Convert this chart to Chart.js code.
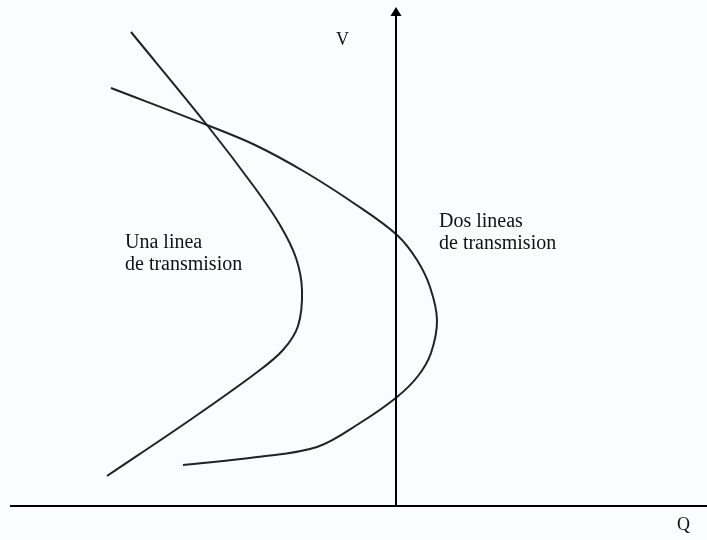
<!DOCTYPE html>
<html>
<head>
<meta charset="utf-8">
<script src="https://cdn.jsdelivr.net/npm/chart.js@4/dist/chart.umd.min.js"></script>
<style>
  html, body { margin: 0; padding: 0; background: #fbfcfe; }
  #wrap { width: 707px; height: 540px; }
</style>
</head>
<body>
<div id="wrap"><canvas id="qv" width="707" height="540"></canvas></div>
<script>
// curva Q-V con una linea de transmision
const unaQ = [-265, -189, -141, -116, -100, -94, -98, -113, -140, -206, -289];
const unaV = [474, 381, 318, 281, 248, 216, 180, 156, 133, 86, 30];

// curva Q-V con dos lineas de transmision
const dosQ = [-285, -189, -141, -91, -41, 1, 21, 34, 41, 35, 22, 1, -36, -79, -139, -213];
const dosV = [418, 381, 361, 334, 302, 271, 246, 219, 186, 153, 130, 109, 83, 59, 49, 41];

const labels = [
  { q: -271, v: 258, text: 'Una linea' },
  { q: -271, v: 236, text: 'de transmision' },
  { q: 43, v: 279, text: 'Dos lineas' },
  { q: 43, v: 257, text: 'de transmision' },
  { q: -60, v: 461, text: 'V' },
  { q: 281, v: -24, text: 'Q' },
];

const toPoints = (qs, vs) => qs.map((q, i) => ({ x: q, y: vs[i] }));

const axesPlugin = {
  id: 'axesPlugin',
  beforeDraw(chart) {
    const c = chart.ctx;
    c.save();
    c.fillStyle = '#fbfcfe';
    c.fillRect(0, 0, chart.width, chart.height);
    c.restore();
  },
  afterDatasetsDraw(chart) {
    const c = chart.ctx;
    const xs = chart.scales.x, ys = chart.scales.y;
    const x0 = xs.getPixelForValue(0);
    const y0 = ys.getPixelForValue(0);
    const yTop = ys.getPixelForValue(499);
    c.save();
    c.strokeStyle = '#000';
    c.lineWidth = 2;
    c.beginPath();
    c.moveTo(xs.getPixelForValue(-386), y0);
    c.lineTo(xs.right, y0);
    c.moveTo(x0, y0);
    c.lineTo(x0, yTop + 6);
    c.stroke();
    // flecha del eje V
    c.fillStyle = '#000';
    c.beginPath();
    c.moveTo(x0, yTop);
    c.lineTo(x0 - 5.5, yTop + 9);
    c.lineTo(x0 + 5.5, yTop + 9);
    c.closePath();
    c.fill();

    c.fillStyle = '#111';
    c.textBaseline = 'alphabetic';
    labels.forEach(l => {
      c.font = (l.text.length === 1 ? '18px' : '20px') + ' "Liberation Serif", serif';
      c.fillText(l.text, xs.getPixelForValue(l.q), ys.getPixelForValue(l.v));
    });
    c.restore();
  },
};

const curve = data => ({
  data,
  showLine: true,
  borderColor: '#222',
  backgroundColor: '#222',
  borderWidth: 2,
  pointRadius: 0,
  tension: 0.35,
});

new Chart(document.getElementById('qv'), {
  type: 'scatter',
  data: {
    datasets: [
      curve(toPoints(unaQ, unaV)),
      curve(toPoints(dosQ, dosV)),
    ],
  },
  options: {
    responsive: false,
    animation: false,
    layout: { padding: 0 },
    scales: {
      x: { type: 'linear', min: -396, max: 311, display: false },
      y: { type: 'linear', min: -34, max: 506, display: false },
    },
    plugins: {
      legend: { display: false },
      tooltip: { enabled: false },
    },
  },
  plugins: [axesPlugin],
});
</script>
</body>
</html>
